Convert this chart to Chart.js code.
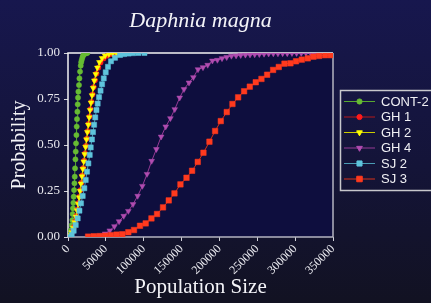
<!DOCTYPE html>
<html lang="en">
<head>
  <meta charset="UTF-8" />
  <title>Daphnia magna</title>
  <script src="https://cdn.jsdelivr.net/npm/chart.js"></script>
  <style>
    body {
      margin: 0;
      padding: 0;
      background: linear-gradient(#17174e 0%, #141438 55%, #121222 100%);
      overflow: hidden;
    }
    .chart-box {
      width: 431px;
      height: 303px;
      position: relative;
    }
  </style>
</head>
<body>
  <div class="chart-box">
    <canvas id="cdfChart"></canvas>
  </div>

  <script>
    const xTicks = [0, 50000, 100000, 150000, 200000, 250000, 300000, 350000];
    const yTicks = [0, 0.25, 0.5, 0.75, 1];

    const seriesNames = ['CONT-2', 'GH 1', 'GH 2', 'GH 4', 'SJ 2', 'SJ 3'];

    const cont2X = [500, 1300, 2700, 4000, 4900, 5800, 6200, 6600, 7100, 7500, 8000, 8500, 8900, 9300, 9800, 10200, 10600, 11100, 11500, 11900, 12400, 12800, 13200, 13700, 14500, 15100, 15900, 16800, 17400, 18100, 19000, 19800, 21000, 22500, 24000, 25600];
    const cont2Y = [0, 0.002, 0.015, 0.038, 0.065, 0.092, 0.125, 0.156, 0.186, 0.219, 0.255, 0.292, 0.328, 0.373, 0.422, 0.464, 0.509, 0.554, 0.600, 0.641, 0.681, 0.721, 0.757, 0.790, 0.826, 0.862, 0.899, 0.931, 0.950, 0.962, 0.975, 0.985, 0.992, 0.997, 0.999, 1.000];

    const gh1X = [1300, 4000, 6000, 7800, 9500, 11000, 12600, 14000, 15300, 16500, 17700, 18900, 20100, 21300, 22500, 23700, 24900, 26100, 27300, 28500, 29700, 31000, 32400, 33900, 35600, 37600, 40000, 43000, 47000, 51500, 56500, 62000, 67400];
    const gh1Y = [0, 0.012, 0.03, 0.055, 0.085, 0.115, 0.15, 0.185, 0.22, 0.255, 0.295, 0.335, 0.375, 0.415, 0.455, 0.495, 0.535, 0.575, 0.615, 0.655, 0.695, 0.735, 0.775, 0.815, 0.852, 0.888, 0.92, 0.948, 0.97, 0.985, 0.994, 0.998, 1.0];

    const gh2X = [1000, 3500, 5000, 7000, 8800, 10500, 12000, 13500, 14800, 16000, 17200, 18400, 19600, 20800, 22000, 23200, 24400, 25600, 26800, 28000, 29200, 30400, 31800, 33200, 34800, 36600, 38800, 41500, 45000, 49000, 54000, 59000, 64000];
    const gh2Y = [0, 0.01, 0.025, 0.05, 0.08, 0.11, 0.145, 0.18, 0.215, 0.25, 0.29, 0.33, 0.37, 0.41, 0.45, 0.49, 0.53, 0.57, 0.61, 0.65, 0.69, 0.73, 0.77, 0.81, 0.85, 0.885, 0.92, 0.95, 0.972, 0.986, 0.994, 0.998, 1.0];

    const gh4X = [36700, 42850, 49000, 55150, 61300, 67450, 73600, 79700, 85900, 92000, 98200, 104400, 110500, 116700, 123000, 129100, 135250, 141000, 147500, 153200, 159800, 165600, 171700, 178300, 184500, 190700, 197300, 203400, 209600, 215800, 222000, 228100, 234300, 240400, 246600, 252700, 258900, 265000, 271200, 277300, 283500, 289600, 295800, 301900, 308100, 314200, 320400, 326500, 332700];
    const gh4Y = [0.002, 0.008, 0.018, 0.035, 0.058, 0.085, 0.114, 0.141, 0.178, 0.223, 0.277, 0.342, 0.413, 0.477, 0.545, 0.600, 0.645, 0.694, 0.757, 0.803, 0.839, 0.868, 0.911, 0.922, 0.935, 0.958, 0.962, 0.971, 0.977, 0.984, 0.986, 0.988, 0.990, 0.991, 0.992, 0.993, 0.995, 0.996, 0.997, 0.997, 0.998, 0.998, 0.999, 0.999, 0.999, 1, 1, 1, 1];

    const sj2X = [2700, 4900, 7500, 10200, 12800, 15100, 17200, 19400, 21600, 23400, 25100, 26900, 28700, 30000, 31600, 33000, 34500, 36000, 37600, 39200, 41000, 43000, 45000, 47200, 49800, 52800, 56800, 62100, 68700, 74000, 80000, 86000, 93000, 101000];
    const sj2Y = [0, 0.011, 0.034, 0.065, 0.101, 0.143, 0.183, 0.223, 0.265, 0.31, 0.355, 0.40, 0.446, 0.487, 0.53, 0.57, 0.61, 0.65, 0.69, 0.725, 0.76, 0.795, 0.83, 0.862, 0.895, 0.925, 0.955, 0.974, 0.989, 0.994, 0.997, 0.999, 1.0, 1.0];

    const sj3X = [26500, 34000, 41600, 49150, 56700, 64250, 71800, 79700, 87200, 95100, 102600, 110200, 117600, 125500, 133100, 140600, 148500, 156500, 163900, 171400, 178900, 186800, 194300, 201800, 209700, 217200, 224700, 232600, 240100, 248000, 255500, 263000, 270900, 278400, 285900, 293800, 301200, 308800, 316700, 324200, 331700, 339600, 347100];
    const sj3Y = [0.002, 0.004, 0.005, 0.007, 0.010, 0.013, 0.015, 0.026, 0.038, 0.061, 0.074, 0.101, 0.125, 0.161, 0.199, 0.237, 0.286, 0.322, 0.360, 0.408, 0.458, 0.518, 0.576, 0.630, 0.679, 0.723, 0.759, 0.792, 0.817, 0.841, 0.859, 0.882, 0.908, 0.924, 0.942, 0.944, 0.955, 0.964, 0.971, 0.980, 0.984, 0.988, 0.988];

    const toPoints = (xs, ys) => xs.map((x, i) => ({ x, y: ys[i] }));

    const serif = "'Liberation Serif', 'Times New Roman', serif";
    const sans = "'Liberation Sans', Arial, sans-serif";

    function series(label, xs, ys, line, fill, style, radius, rotation, order) {
      return {
        label,
        data: toPoints(xs, ys),
        borderColor: line,
        borderWidth: 1,
        pointBackgroundColor: fill,
        pointBorderColor: fill,
        pointBorderWidth: 0.5,
        pointStyle: style,
        pointRadius: radius,
        pointRotation: rotation,
        showLine: true,
        tension: 0,
        order
      };
    }

    const datasets = [
      series(seriesNames[0], cont2X, cont2Y, '#58a830', '#66bb33', 'circle', 2.6, 0, 6),
      series(seriesNames[1], gh1X, gh1Y, '#b81818', '#ff1a1a', 'circle', 2.6, 0, 5),
      series(seriesNames[2], gh2X, gh2Y, '#cccc00', '#ffff00', 'triangle', 3.3, 180, 4),
      series(seriesNames[3], gh4X, gh4Y, '#963a96', '#b04cb0', 'triangle', 3.3, 180, 3),
      series(seriesNames[4], sj2X, sj2Y, '#4a9cb4', '#5ec4dc', 'rect', 3.6, 0, 2),
      series(seriesNames[5], sj3X, sj3Y, '#d83018', '#ff3a1e', 'rect', 3.9, 0, 1)
    ];

    // plot background and frame, drawn under the data
    const plotFrame = {
      id: 'plotFrame',
      beforeDatasetsDraw(chart) {
        const { ctx, chartArea: a } = chart;
        ctx.save();
        ctx.fillStyle = '#0e0e3e';
        ctx.fillRect(a.left, a.top, a.right - a.left, a.bottom - a.top);
        ctx.lineWidth = 1.5;
        ctx.strokeStyle = '#b4b4c0';
        ctx.beginPath();
        ctx.moveTo(a.right, a.top);
        ctx.lineTo(a.right, a.bottom);
        ctx.lineTo(a.left, a.bottom);
        ctx.stroke();
        ctx.strokeStyle = '#f4f4f4';
        ctx.beginPath();
        ctx.moveTo(a.left, a.bottom);
        ctx.lineTo(a.left, a.top);
        ctx.lineTo(a.right, a.top);
        ctx.stroke();
        ctx.restore();
      }
    };

    // boxed legend on the right, partly cut off like the original slide
    const boxLegend = {
      id: 'boxLegend',
      afterDraw(chart) {
        const ctx = chart.ctx;
        ctx.save();
        ctx.lineWidth = 1.5;
        ctx.strokeStyle = '#c8c8cc';
        ctx.strokeRect(340.5, 90.5, 110, 100);
        ctx.font = '13px ' + sans;
        ctx.textBaseline = 'middle';
        datasets.forEach((ds, i) => {
          const y = 101.5 + i * 15.5;
          ctx.strokeStyle = ds.borderColor;
          ctx.lineWidth = 1;
          ctx.beginPath();
          ctx.moveTo(344, y);
          ctx.lineTo(375, y);
          ctx.stroke();
          ctx.fillStyle = ds.pointBackgroundColor;
          ctx.strokeStyle = ds.pointBackgroundColor;
          Chart.helpers.drawPoint(ctx, {
            pointStyle: ds.pointStyle,
            radius: ds.pointRadius,
            rotation: ds.pointRotation,
            borderWidth: 0.5
          }, 359.5, y);
          ctx.fillStyle = '#f0f0f4';
          ctx.fillText(ds.label, 381, y + 0.5);
        });
        ctx.restore();
      }
    };

    new Chart(document.getElementById('cdfChart'), {
      type: 'scatter',
      data: { datasets },
      options: {
        responsive: true,
        maintainAspectRatio: false,
        animation: false,
        layout: { padding: { left: 0, right: 98, top: 0, bottom: 0 } },
        plugins: {
          legend: { display: false },
          tooltip: { enabled: false },
          title: {
            display: true,
            text: 'Daphnia magna',
            fullSize: false,
            color: '#f4f4f8',
            font: { family: serif, size: 22, style: 'italic', weight: 'normal' },
            padding: { top: 8, bottom: 18.6 }
          }
        },
        scales: {
          x: {
            type: 'linear',
            min: 0,
            max: 350000,
            afterBuildTicks: scale => { scale.ticks = xTicks.map(v => ({ value: v })); },
            afterFit: scale => { scale.height = 66; },
            border: { display: false },
            grid: { drawOnChartArea: false, tickLength: 4, tickColor: '#d0d0d8', lineWidth: 1 },
            ticks: {
              minRotation: 45,
              maxRotation: 45,
              padding: 1,
              color: '#e8e8ee',
              font: { family: serif, size: 12 },
              callback: v => String(v)
            },
            title: {
              display: true,
              text: 'Population Size',
              color: '#f4f4f8',
              font: { family: serif, size: 21 },
              padding: { top: 0, bottom: 3 }
            }
          },
          y: {
            min: 0,
            max: 1,
            afterBuildTicks: scale => { scale.ticks = yTicks.map(v => ({ value: v })); },
            afterFit: scale => { scale.width = 68; },
            border: { display: false },
            grid: { drawOnChartArea: false, tickLength: 4, tickColor: '#d0d0d8', lineWidth: 1 },
            ticks: {
              padding: 4,
              color: '#e8e8ee',
              font: { family: serif, size: 13 },
              callback: v => v.toFixed(2)
            },
            title: {
              display: true,
              text: 'Probability',
              color: '#f4f4f8',
              font: { family: serif, size: 20 },
              padding: { top: 8, bottom: 0 }
            }
          }
        }
      },
      plugins: [plotFrame, boxLegend]
    });
  </script>
</body>
</html>
